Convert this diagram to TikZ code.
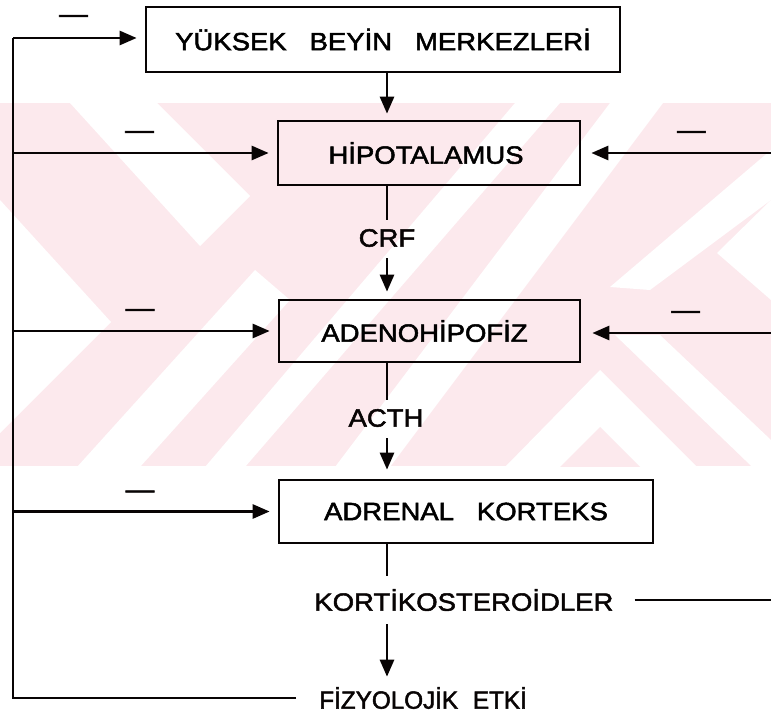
\documentclass[tikz,border=0pt]{standalone}
\usepackage{fontspec}
\setmainfont{Liberation Sans}[FakeStretch=1.1, WordSpace=3, FakeBold=2]
\newfontfamily\narrowfont{Liberation Sans}[FakeStretch=0.97, WordSpace=2.2, FakeBold=2]
\usepackage{tikz}
\usetikzlibrary{arrows.meta, positioning, calc}
\definecolor{wmpink}{RGB}{252, 233, 237}
\definecolor{ink}{RGB}{8, 4, 4}

\begin{document}
\begin{tikzpicture}[x=1pt, y=-1pt, line width=2.7pt, draw=ink,
    box/.style={draw=ink, line width=2.7pt, inner sep=0pt},
    lbl/.style={inner sep=0pt, text=ink},
    minus/.style={inner sep=0pt, text=ink, font=\fontsize{26}{26}\selectfont},
    arr/.style={-{Triangle[length=17pt, width=14pt]}, draw=ink}]
    \useasboundingbox (0,0) rectangle (771,719);
    % watermark
    \begin{scope}
    \clip (0,103) rectangle (771,466);
    \fill[wmpink] (0,103) rectangle (771,466);
    \fill[white] (70,103) -- (157,103) -- (250,196) -- (200,246) -- cycle;
    \fill[white] (0,200) -- (111,322) -- (0,433) -- cycle;
    \fill[white] (77,467) -- (140,467) -- (290,300) -- (255,270) -- cycle;
    \fill[white] (205,467) -- (245,467) -- (560,103) -- (515,103) -- cycle;
    \fill[white] (335,467) -- (390,467) -- (663,103) -- (610,103) -- cycle;
    \fill[white] (610,287) -- (650,290) -- (771,200) -- (771,150) -- cycle;
    \fill[white] (717,253) -- (771,200) -- (771,300) -- cycle;
    \fill[white] (615,335) -- (660,335) -- (771,440) -- (771,485) -- cycle;
    \fill[white] (505,467) -- (600,370) -- (697,467) -- cycle;
    \fill[wmpink] (560,467) -- (600,427) -- (640,467) -- cycle;
    \end{scope}

    \begin{scope}[font=\fontsize{25}{25}\selectfont]
    \node[box, minimum width=474pt, minimum height=65pt] (yuksek) at (383,39.5) {YÜKSEK BEYİN MERKEZLERİ};
    \node[box, minimum width=302pt, minimum height=64pt] (hipo) at (429,153) {\hspace*{-6pt}HİPOTALAMUS};
    \node[box, minimum width=301pt, minimum height=62pt] (adeno) at (429.5,331) {\hspace*{-10pt}ADENOHİPOFİZ};
    \node[box, minimum width=374pt, minimum height=63pt] (adrenal) at (466,511.5) {ADRENAL KORTEKS};
    \node[lbl] (crf) at (387,238) {CRF};
    \node[lbl] (acth) at (386,418) {ACTH};
    \node[lbl, anchor=west] (kort) at (313,600) {KORTİKOSTEROİDLER};
    \node[lbl, anchor=west, font=\fontsize{25}{25}\narrowfont] (fizyo) at (318,698) {FİZYOLOJİK ETKİ};
    \end{scope}

    \coordinate (top) at (13,38);
    \coordinate (bot) at (13,698);
    \coordinate (r1) at (771,153);
    \coordinate (r2) at (771,333);
    \coordinate (r3) at (771,600);

    % main chain
    \draw[arr, shorten >=6pt] (yuksek.south -| crf) -- (hipo.north -| crf);
    \draw (hipo.south -| crf) -- ([yshift=8pt]crf.north);
    \draw[arr, shorten >=7pt] ([yshift=-10pt]crf.south) -- (adeno.north -| crf);
    \draw (adeno.south -| crf) -- ([yshift=8pt]acth.north -| crf);
    \draw[arr, shorten >=9pt] ([yshift=-10pt]acth.south -| crf) -- (adrenal.north -| crf);
    \draw (adrenal.south -| crf) -- ([yshift=12pt]kort.north -| crf);
    \draw[arr, shorten >=9pt] ([yshift=-12pt]kort.south -| crf) -- (fizyo.north -| crf);

    % feedback
    \draw ([xshift=-22pt]fizyo.west) -- (bot) -- (top);
    \draw[arr, shorten >=8pt] (top) -- node[minus, pos=0.46, above=14pt] (m1) {---} (yuksek.west |- top);
    \draw[arr, shorten >=8pt] (top |- hipo) -- node[minus, pos=0.48, above=13pt] (m2) {---} (hipo.west);
    \draw[arr, shorten >=8pt] (top |- adeno) -- node[minus, pos=0.48, above=13pt] (m3) {---} (adeno.west);
    \draw[arr, shorten >=8pt] (top |- adrenal) -- node[minus, pos=0.48, above=12pt] (m4) {---} (adrenal.west);
    \draw[arr, shorten >=10pt] (r1) -- node[minus, pos=0.42, above=13pt] (m5) {---} (hipo.east);
    \draw[arr, shorten >=11pt] (r2) -- node[minus, pos=0.45, above=13pt] (m6) {---} (adeno.east |- r2);
    \draw ([xshift=20pt]kort.east) -- (r3);
\end{tikzpicture}
\end{document}
